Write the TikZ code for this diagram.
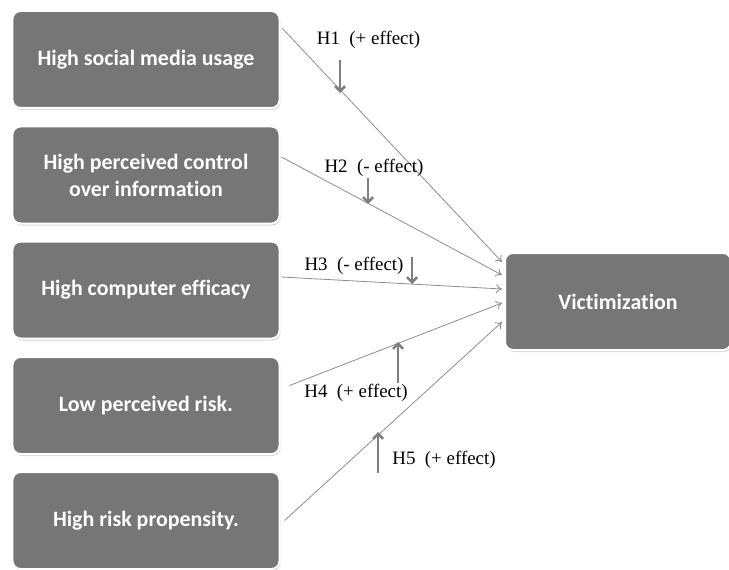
\documentclass[tikz,border=0pt]{standalone}
\usepackage{fontspec}
\setmainfont{Liberation Serif}
\newfontfamily\boxfont[Ligatures=NoCommon]{Carlito}
\usetikzlibrary{arrows.meta,shadows,calc}
\definecolor{boxgray}{HTML}{767676}
\definecolor{linegray}{HTML}{8C8C8C}
\definecolor{markgray}{HTML}{7F7F7F}
\begin{document}
\begin{tikzpicture}[x=1bp,y=-1bp,
  factor/.style={rounded corners=8bp, fill=boxgray, draw=white, line width=2bp,
    minimum width=267bp, minimum height=97bp, text=white, align=center,
    font=\boxfont\bfseries\fontsize{22}{27}\selectfont,
    drop shadow={opacity=0.3, shadow xshift=1bp, shadow yshift=-2bp}},
  outcome/.style={factor, minimum width=226bp},
  link/.style={draw=linegray, line width=0.8bp, -{To[length=6bp,width=9bp]}},
  marker/.style={draw=markgray, line width=2.6bp, -{Straight Barb[length=5bp,width=10bp]}},
  hlabel/.style={font=\fontsize{19}{23}\selectfont, inner sep=0pt}]
\useasboundingbox (0,0) rectangle (729,570);

\node[factor] (b1) at (146,59.5) {High social media usage};
\node[factor] (b2) at (146,175) {High perceived control\\over information};
\node[factor] (b3) at (146,290) {High computer efficacy};
\node[factor] (b4) at (146,405.5) {Low perceived risk.};
\node[factor] (b5) at (146,520.5) {High risk propensity.};
\node[outcome] (v) at (618,301.5) {Victimization};

\coordinate (s1) at ($(b1.east)+(2,-31)$);
\coordinate (s2) at ($(b2.east)+(1,-18)$);
\coordinate (s3) at ($(b3.east)+(1,-13)$);
\coordinate (s4) at ($(b4.east)+(9,-20)$);
\coordinate (s5) at ($(b5.east)+(4,0)$);
\coordinate (t1) at ($(v.west)+(-2,-39.5)$);
\coordinate (t2) at ($(v.west)+(-2,-26.5)$);
\coordinate (t3) at ($(v.west)+(-2,-12.5)$);
\coordinate (t4) at ($(v.west)+(-2,1.5)$);
\coordinate (t5) at ($(v.west)+(-2,20.5)$);

\draw[link] (s1) -- (t1);
\draw[link] (s2) -- (t2);
\draw[link] (s3) -- (t3);
\draw[link] (s4) -- (t4);
\draw[link] (s5) -- (t5);

\node[hlabel] (h1) at (368.5,40) {H1\enspace(+ effect)};
\node[hlabel] (h2) at (374,168) {H2\enspace(- effect)};
\node[hlabel] (h3) at (354,266) {H3\enspace(- effect)};
\node[hlabel] (h4) at (356,393) {H4\enspace(+ effect)};
\node[hlabel] (h5) at (444,460) {H5\enspace(+ effect)};

\coordinate (m1a) at (340,60);  \coordinate (m1b) at (340,93);
\coordinate (m2a) at (368,178); \coordinate (m2b) at (368,204);
\coordinate (m3a) at (412,257); \coordinate (m3b) at (412,284);
\coordinate (m4a) at (398,383); \coordinate (m4b) at (398,342);
\coordinate (m5a) at (378,473); \coordinate (m5b) at (378,432);
\draw[marker] (m1a) -- (m1b);
\draw[marker] (m2a) -- (m2b);
\draw[marker] (m3a) -- (m3b);
\draw[marker] (m4a) -- (m4b);
\draw[marker] (m5a) -- (m5b);
\end{tikzpicture}
\end{document}
